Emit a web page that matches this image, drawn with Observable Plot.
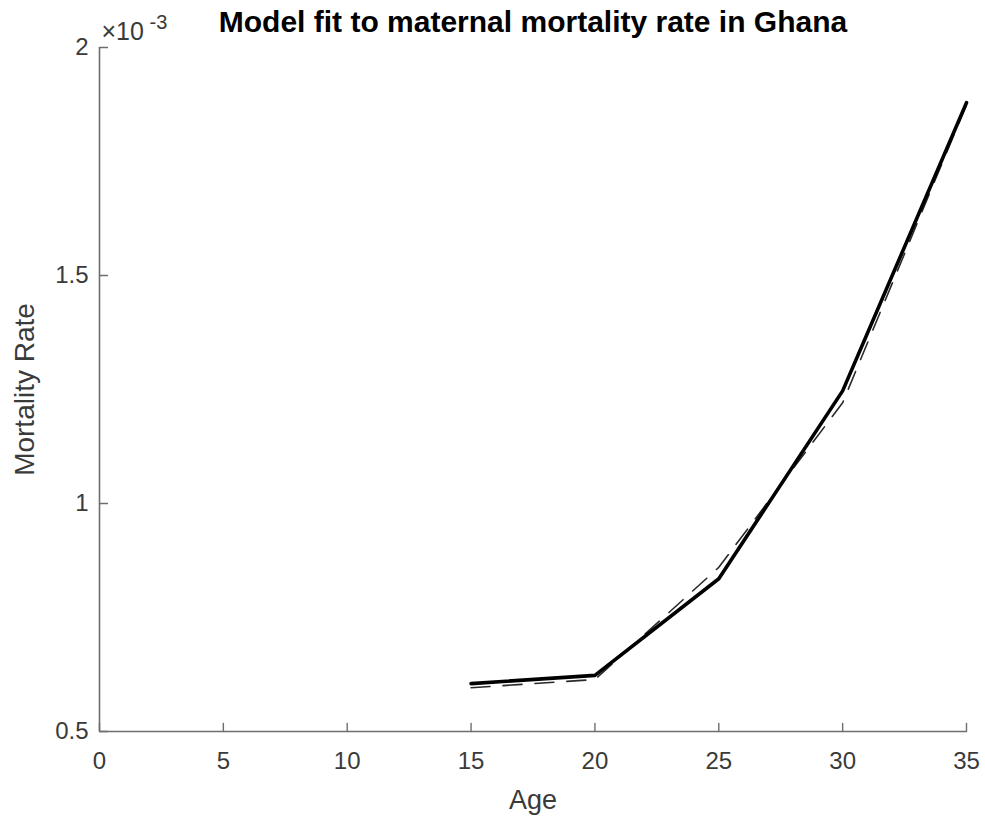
<!DOCTYPE html>
<html>
<head>
<meta charset="utf-8">
<script src="https://cdn.jsdelivr.net/npm/d3@7"></script>
<script src="https://cdn.jsdelivr.net/npm/@observablehq/plot@0.6"></script>
<style>
  html, body { margin: 0; padding: 0; background: #fff; }
  #chart svg { display: block; }
</style>
</head>
<body>
<div id="chart"></div>
<script>
// Data (mortality rate in units of 10^-3)
const ages = [15, 20, 25, 30, 35];
const observed = [0.605, 0.623, 0.835, 1.247, 1.879];
const modelFit = [0.596, 0.614, 0.860, 1.221, 1.875];
const xTicks = [0, 5, 10, 15, 20, 25, 30, 35];
const yTicks = [0.5, 1, 1.5, 2];
const yTickLabels = ["0.5", "1", "1.5", "2"];

const observedRows = ages.map((a, i) => ({age: a, rate: observed[i]}));
const fitRows = ages.map((a, i) => ({age: a, rate: modelFit[i]}));

const axisColor = "#6e6e6e";
const textColor = "#3a3a3a";
const font = "'Liberation Sans', Arial, Helvetica, sans-serif";

// straight tick shape for vector marks (drawn from anchor point along the rotation)
const tickShape = {draw(context, l) { context.moveTo(0, 0); context.lineTo(0, -l); }};

const chart = Plot.plot({
  width: 985,
  height: 819,
  marginLeft: 99,
  marginRight: 19,
  marginTop: 47,
  marginBottom: 88,
  style: {fontFamily: font, background: "#fff", overflow: "visible"},
  x: {domain: [0, 35], axis: null},
  y: {domain: [0.5, 2], axis: null},
  marks: [
    // axis lines
    Plot.ruleY([0.5], {stroke: axisColor, strokeWidth: 1.6}),
    Plot.ruleX([0], {stroke: axisColor, strokeWidth: 1.6}),
    // inward ticks
    Plot.vector(xTicks, {x: d => d, y: 0.5, length: 8, rotate: 0, anchor: "start", shape: tickShape,
      stroke: axisColor, strokeWidth: 1.4}),
    Plot.vector(yTicks, {x: 0, y: d => d, length: 8, rotate: 90, anchor: "start", shape: tickShape,
      stroke: axisColor, strokeWidth: 1.4}),
    // tick labels
    Plot.axisX(xTicks, {anchor: "bottom", tickSize: 0, tickPadding: 20, fontSize: 24, fill: textColor,
      label: null, tickFormat: d => String(d)}),
    Plot.axisY(yTicks, {anchor: "left", tickSize: 0, tickPadding: 11, fontSize: 24, fill: textColor,
      label: null, tickFormat: d => yTickLabels[yTicks.indexOf(d)]}),
    // series
    Plot.line(fitRows, {x: "age", y: "rate", stroke: "#2a2a2a", strokeWidth: 1.6, strokeDasharray: "19,13"}),
    Plot.line(observedRows, {x: "age", y: "rate", stroke: "#000", strokeWidth: 3.6, strokeLinejoin: "round"}),
    // exponent label
    Plot.text(["×10"], {frameAnchor: "top-left", dx: 2, dy: -16, text: d => d, textAnchor: "start",
      fontSize: 25, fill: textColor, lineAnchor: "middle"}),
    Plot.text(["-3"], {frameAnchor: "top-left", dx: 50, dy: -25, text: d => d, textAnchor: "start",
      fontSize: 20, fill: textColor, lineAnchor: "middle"}),
    // title
    Plot.text(["Model fit to maternal mortality rate in Ghana"], {frameAnchor: "top", dy: -25, text: d => d,
      fontSize: 30, fontWeight: "bold", fill: "#000", lineAnchor: "middle"}),
    // axis labels
    Plot.text(["Age"], {frameAnchor: "bottom", dy: 69, text: d => d, fontSize: 27, fill: textColor,
      textAnchor: "middle", lineAnchor: "middle"}),
    Plot.text(["Mortality Rate"], {frameAnchor: "left", dx: -74, rotate: -90, text: d => d, fontSize: 28,
      fill: textColor, textAnchor: "middle", lineAnchor: "middle"})
  ]
});

document.getElementById("chart").appendChild(chart);
</script>
</body>
</html>
